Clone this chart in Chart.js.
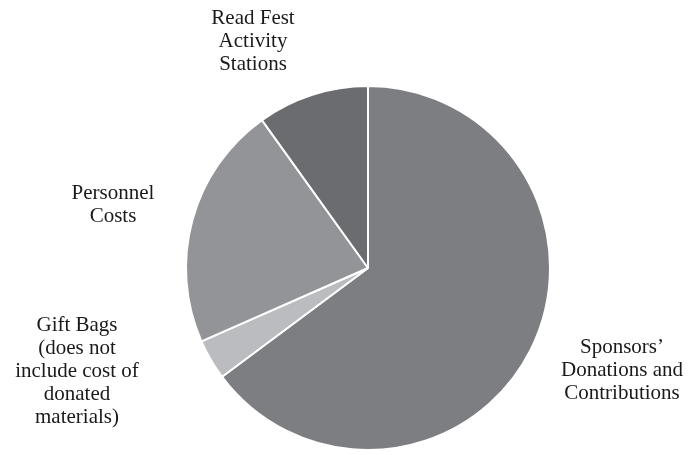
<!DOCTYPE html>
<html>
<head>
<meta charset="utf-8">
<script src="https://cdn.jsdelivr.net/npm/chart.js@4"></script>
<style>
  body { margin: 0; background: #fff; }
  #wrap { width: 691px; height: 455px; }
</style>
</head>
<body>
<div id="wrap"><canvas id="pie"></canvas></div>
<script>
const categories = [
  ['Sponsors\u2019', 'Donations and', 'Contributions'],
  ['Gift Bags', '(does not', 'include cost of', 'donated', 'materials)'],
  ['Personnel', 'Costs'],
  ['Read Fest', 'Activity', 'Stations']
];
const shares = [64.8, 3.6, 21.7, 9.9];
const colors = ['#7d7e82', '#bbbcbf', '#939498', '#6b6c70'];

// where each label block is centred (x) and its first line sits (y)
const labelSpots = [[622, 347], [77, 325], [113, 193], [253, 18]];

const outsideLabels = {
  id: 'outsideLabels',
  afterDraw(chart) {
    const c = chart.ctx;
    c.save();
    c.fillStyle = '#1a1a1a';
    c.font = '21px "Liberation Serif", "Times New Roman", serif';
    c.textAlign = 'center';
    c.textBaseline = 'middle';
    categories.forEach((lines, i) => {
      const [x, y] = labelSpots[i];
      lines.forEach((t, j) => c.fillText(t, x, y + j * 23));
    });
    c.restore();
  }
};

new Chart(document.getElementById('pie'), {
  type: 'pie',
  data: {
    labels: categories.map(l => l.join(' ')),
    datasets: [{
      data: shares,
      backgroundColor: colors,
      borderColor: '#ffffff',
      borderWidth: 2
    }]
  },
  options: {
    responsive: true,
    maintainAspectRatio: false,
    animation: false,
    layout: { padding: { top: 85, bottom: 4, left: 185, right: 140 } },
    plugins: {
      legend: { display: false },
      tooltip: { enabled: false }
    }
  },
  plugins: [outsideLabels]
});
</script>
</body>
</html>
